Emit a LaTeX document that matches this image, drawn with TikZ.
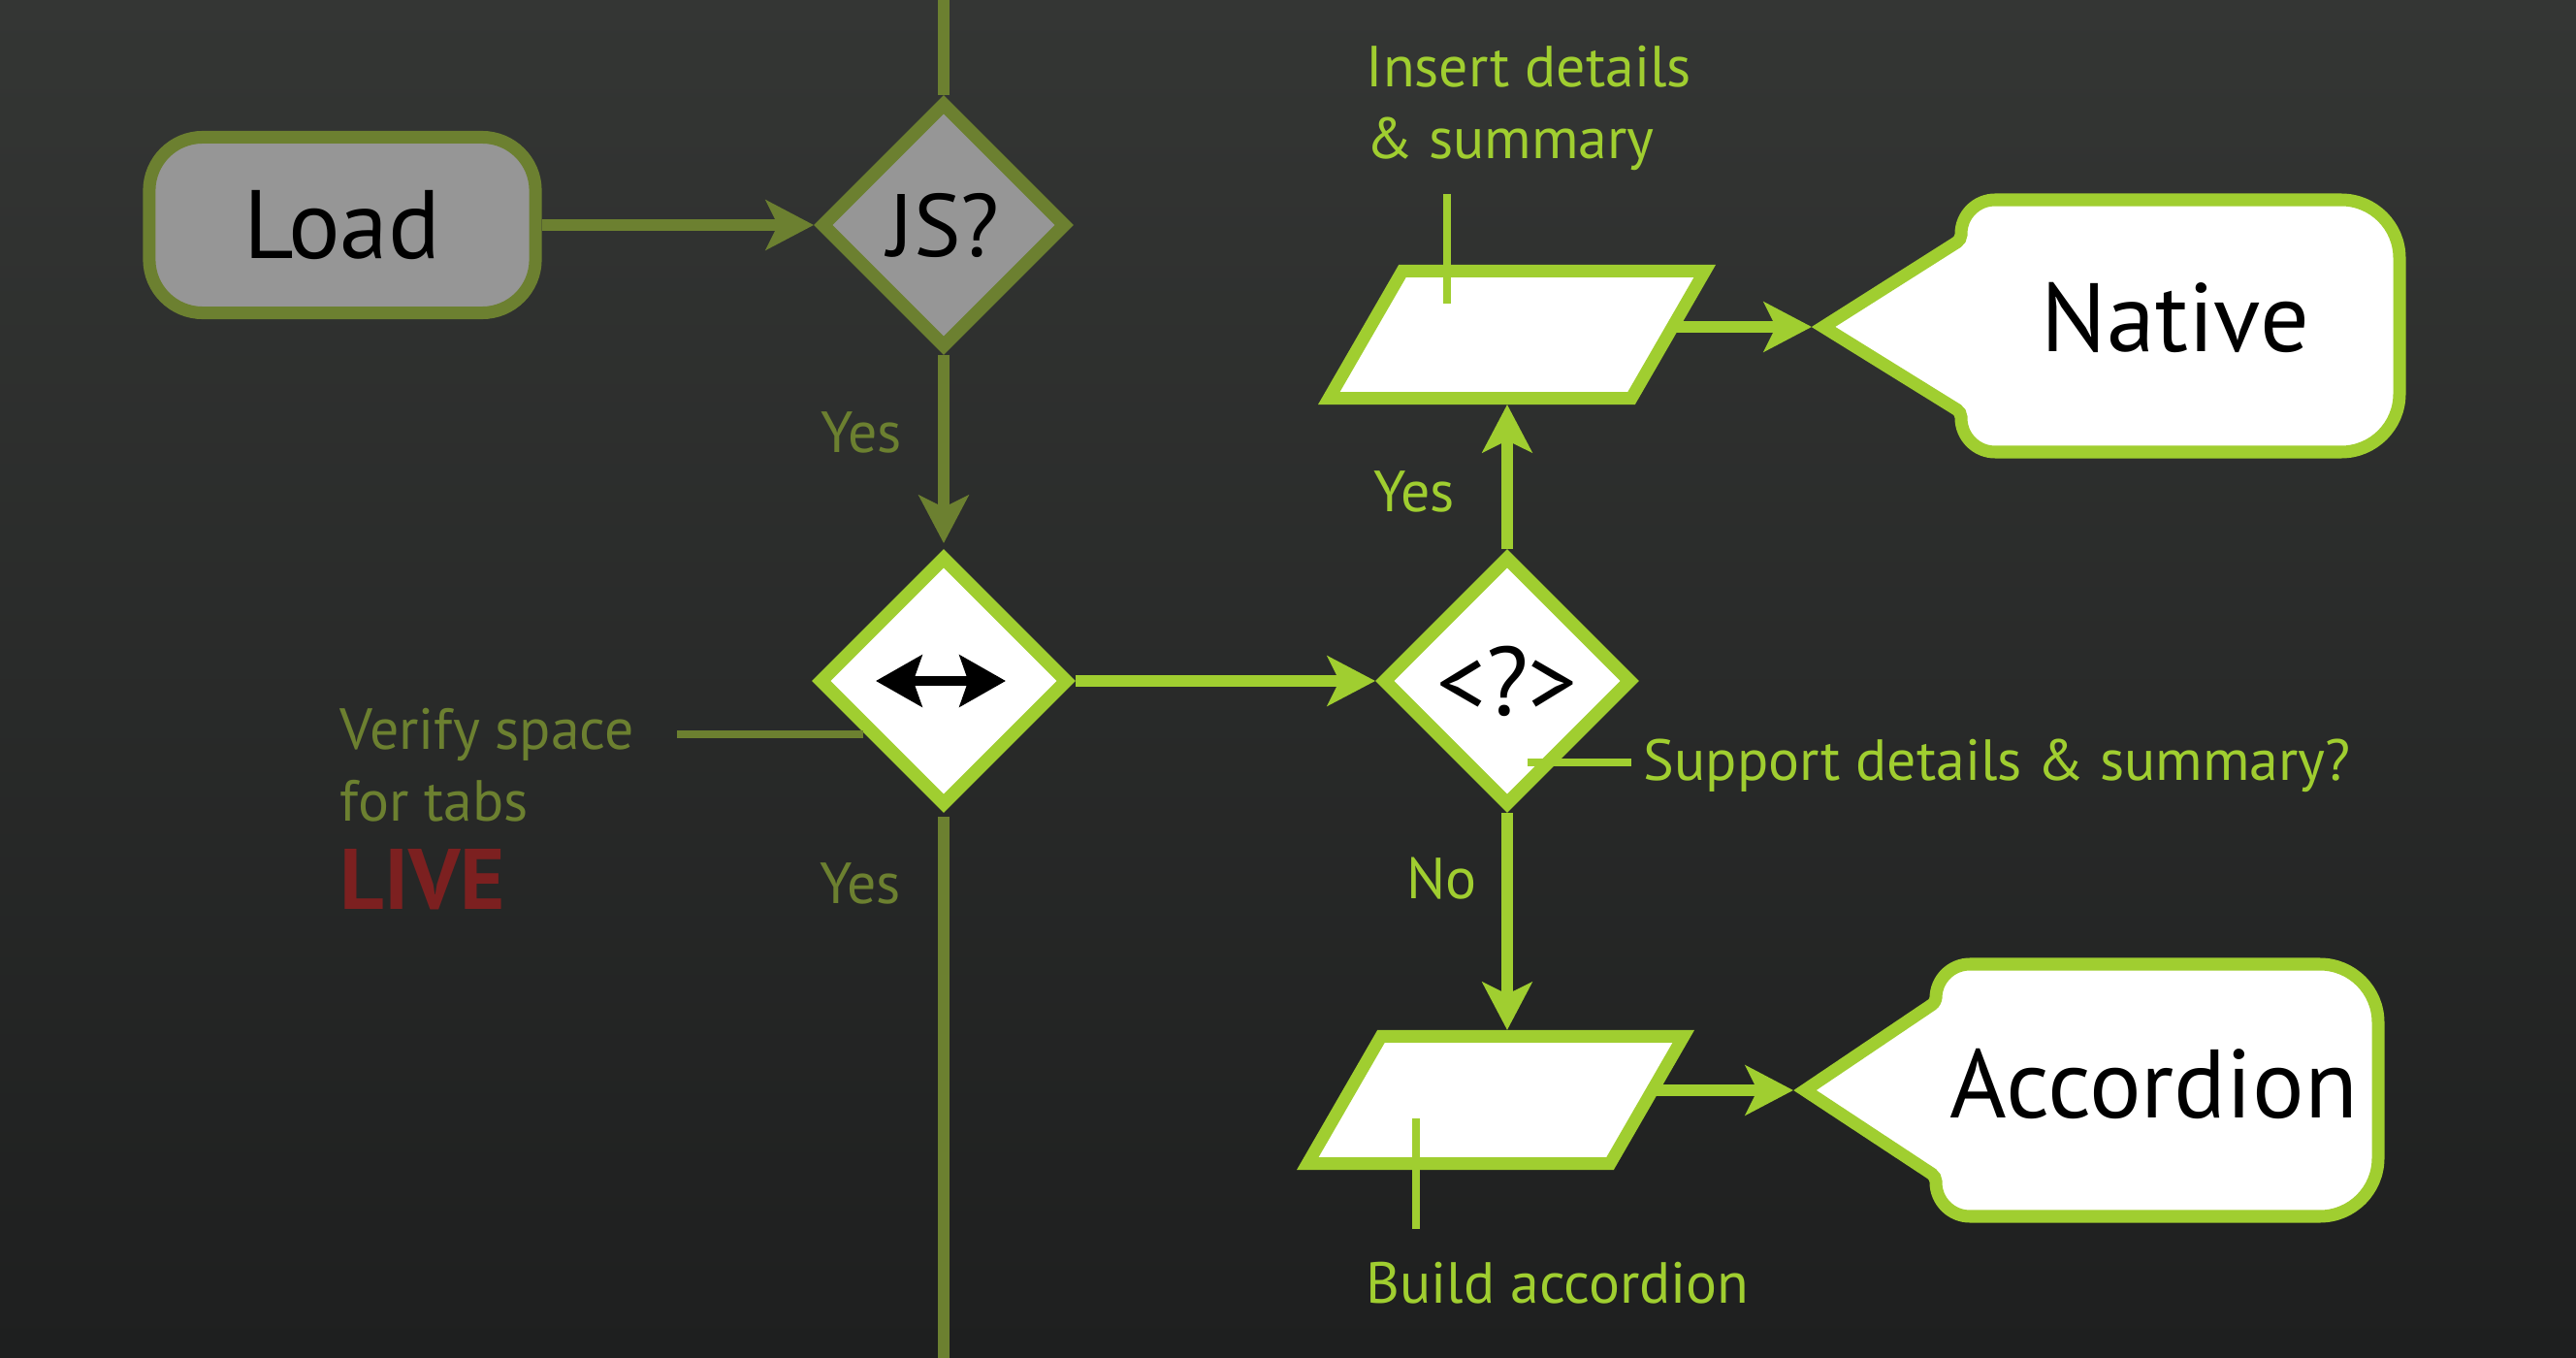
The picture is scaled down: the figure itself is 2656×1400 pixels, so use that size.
\documentclass[tikz,border=0pt]{standalone}
\usepackage{fontspec}
\setmainfont{PT Sans}
\usetikzlibrary{shapes.geometric,arrows.meta,positioning}

\definecolor{bgtop}{RGB}{52,54,52}
\definecolor{bgbottom}{RGB}{30,31,31}
\definecolor{olivegreen}{RGB}{108,128,48}
\definecolor{limegreen}{RGB}{160,206,48}
\definecolor{boxgray}{RGB}{150,150,150}
\definecolor{livered}{RGB}{124,32,32}

\tikzset{
	% node styles for the flow chart: grey ones are done, white ones are still open
	start node/.style={rectangle, rounded corners=0.55cm, draw=olivegreen, fill=boxgray, line width=3.7pt, minimum width=3.98cm, minimum height=1.81cm, inner sep=0, font=\fontsize{28.5}{34}\selectfont},
	grey decision/.style={diamond, aspect=1, draw=olivegreen, fill=boxgray, line width=3.9pt, minimum width=2.54cm, minimum height=2.54cm, inner sep=0, font=\fontsize{26}{30}\selectfont},
	white decision/.style={diamond, aspect=1, draw=limegreen, fill=white, line width=3.9pt, minimum width=2.58cm, minimum height=2.58cm, inner sep=0, font=\fontsize{28.5}{34}\selectfont},
	io node/.style={trapezium, trapezium left angle=60, trapezium right angle=120, draw=limegreen, fill=white, line width=3.7pt, inner xsep=1.18cm, inner ysep=0.655cm},
	end shape/.style={draw=limegreen, fill=white, line width=3.7pt},
	end text/.style={inner sep=0, anchor=base, font=\fontsize{28.5}{34}\selectfont},
	note/.style={inner sep=0, align=left, font=\fontsize{17}{21.3}\selectfont},
	olive line/.style={draw=olivegreen, line width=3.4pt},
	lime line/.style={draw=limegreen, line width=3.4pt},
	lead line/.style={line width=2.2pt},
	>={Stealth[length=14pt, width=14.5pt, inset=3.5pt]}
}

\begin{document}
\begin{tikzpicture}[x=0.01cm, y=-0.01cm]

  \shade[top color=bgtop, bottom color=bgbottom] (0,0) rectangle (2656,1400);
  \useasboundingbox (0,0) rectangle (2656,1400);

  \node(load) at (353,232) [start node]{Load};
  \node(js) at (973,232) [grey decision]{JS?};
  \node(tabs) at (973,702) [white decision]{};
  \node(support) at (1554,702) [white decision]{<?>};
  \node(insert) at (1564,345) [io node]{};
  \node(build) at (1542,1134) [io node]{};

  %% the two end states
  \coordinate(nativetip) at (1868,337);
  \draw[end shape] ([xshift=0.12cm]nativetip) [rounded corners=0.05cm] -- ++(142,-90)
    [rounded corners=0.35cm] -- ++(0,-41) [rounded corners=0.6cm] -- ++(452,0) -- ++(0,260)
    [rounded corners=0.35cm] -- ++(-452,0) [rounded corners=0.05cm] -- ++(0,-41) [sharp corners] -- cycle;
  \node(native) at (2243,363) [end text]{Native};

  \coordinate(acctip) at (1849,1124);
  \draw[end shape] ([xshift=0.12cm]acctip) [rounded corners=0.05cm] -- ++(135,-91)
    [rounded corners=0.35cm] -- ++(0,-39) [rounded corners=0.6cm] -- ++(456,0) -- ++(0,260)
    [rounded corners=0.35cm] -- ++(-456,0) [rounded corners=0.05cm] -- ++(0,-41) [sharp corners] -- cycle;
  \node(accordion) at (2221,1152) [end text]{Accordion};

  %% main line
  \coordinate(topend) at (973,0);
  \coordinate(bottomend) at (973,1400);
  \draw[olive line] (topend) -- (js);
  \draw[olive line, ->] (load) -- (js);
  \draw[olive line, ->, shorten >=0.06cm] (js) -- node[left=0.37cm, pos=0.4, note, text=olivegreen]{Yes} (tabs);
  \draw[olive line, shorten <=0.04cm] (tabs) -- node[left=0.38cm, pos=0.13, note, text=olivegreen]{Yes} (bottomend);

  \draw[line width=2.85pt, {Stealth[length=13.5pt, width=15pt, inset=2.5pt]}-{Stealth[length=13.5pt, width=15pt, inset=2.5pt]}]
    ([xshift=-0.7cm]tabs.center) -- ([xshift=0.64cm]tabs.center);

  \draw[lime line, ->] (tabs) -- (support);
  \draw[lime line, ->] (support.north) -- node[left=0.48cm, pos=0.4, note, text=limegreen]{Yes} (support.north |- insert.south);
  \draw[lime line, ->] (support.south) -- node[left=0.25cm, pos=0.3, note, text=limegreen]{No} (support.south |- build.north);
  \draw[lime line, ->] (insert.east |- nativetip) -- (nativetip);
  \draw[lime line, ->] (build.east |- acctip) -- (acctip);

  %% notes and their lead lines
  \node(insnote) at (1408,46) [note, anchor=north west, text=limegreen]{Insert details\\\& summary};
  \node(supnote) at (1694,804) [note, anchor=base west, text=limegreen]{Support details \& summary?};
  \node(buildnote) at (1408,1343) [note, anchor=base west, text=limegreen]{Build accordion};
  \node(verifynote) at (350,729) [note, anchor=north west, text=olivegreen]{Verify space\\for tabs};
  \node(live) at (350,937) [anchor=base west, inner sep=0, text=livered, font=\fontsize{25.2}{30}\selectfont\bfseries]{LIVE};

  \coordinate(ins1) at (1492,200);
  \coordinate(ins2) at (1492,313);
  \coordinate(sup1) at (1575,786);
  \coordinate(sup2) at (1682,786);
  \coordinate(bld1) at (1460,1153);
  \coordinate(bld2) at (1460,1267);
  \coordinate(ver1) at (698,757);
  \coordinate(ver2) at (890,757);
  \draw[lead line, limegreen] (ins1) -- (ins2);
  \draw[lead line, limegreen] (sup1) -- (sup2);
  \draw[lead line, limegreen] (bld1) -- (bld2);
  \draw[lead line, olivegreen] (ver1) -- (ver2);

\end{tikzpicture}
\end{document}
